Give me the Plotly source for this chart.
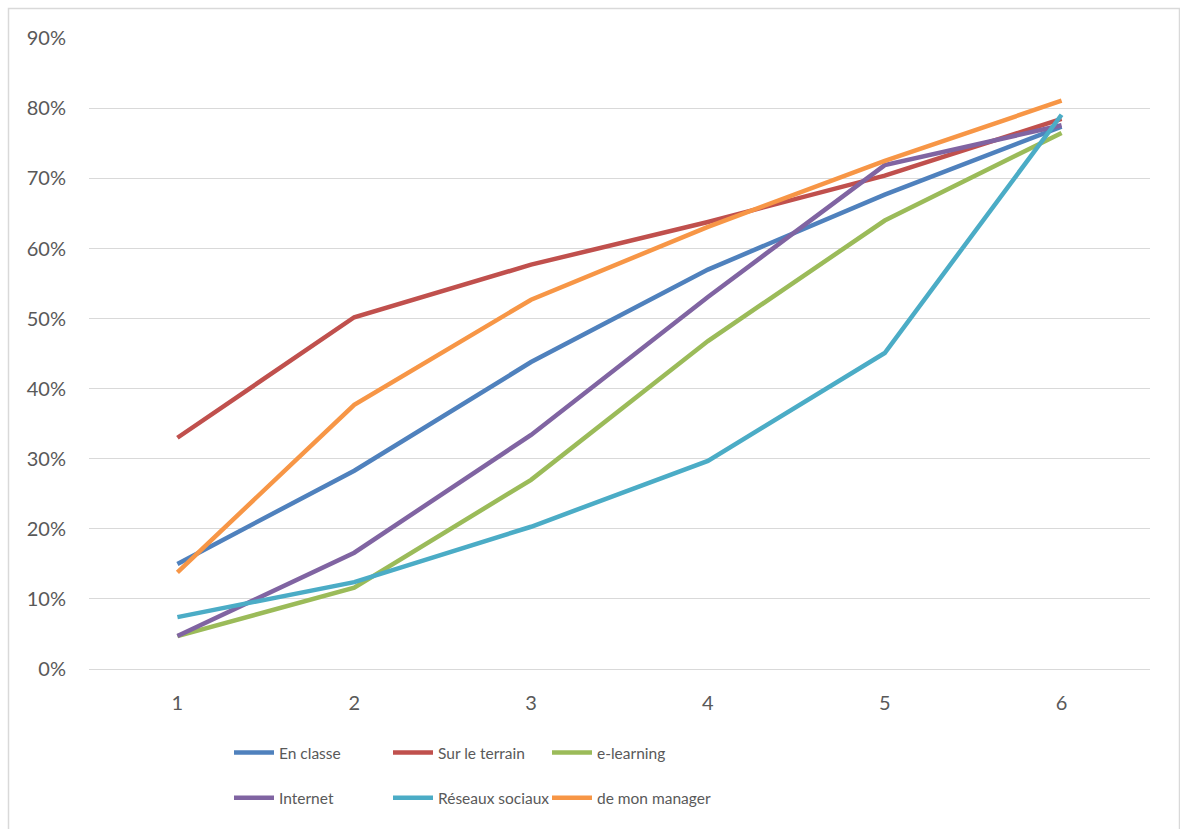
import plotly.graph_objects as go

# Categories on the horizontal axis
categories = [1, 2, 3, 4, 5, 6]

# Share of respondents per learning channel (fractions)
en_classe = [0.150, 0.283, 0.438, 0.570, 0.677, 0.774]
sur_le_terrain = [0.330, 0.502, 0.577, 0.638, 0.704, 0.785]
e_learning = [0.047, 0.116, 0.270, 0.468, 0.640, 0.765]
internet = [0.047, 0.166, 0.334, 0.531, 0.719, 0.776]
reseaux_sociaux = [0.074, 0.124, 0.203, 0.297, 0.451, 0.791]
de_mon_manager = [0.138, 0.377, 0.527, 0.631, 0.725, 0.811]

y_ticks = [0, 0.1, 0.2, 0.3, 0.4, 0.5, 0.6, 0.7, 0.8, 0.9]
y_tick_labels = ["0%", "10%", "20%", "30%", "40%", "50%", "60%", "70%", "80%", "90%"]

# (name, values, colour, legend column)
series = [
    ("En classe", en_classe, "#4f81bd", "legend"),
    ("Sur le terrain", sur_le_terrain, "#c0504d", "legend2"),
    ("e-learning", e_learning, "#9bbb59", "legend3"),
    ("Internet", internet, "#8064a2", "legend"),
    ("Réseaux sociaux", reseaux_sociaux, "#4bacc6", "legend2"),
    ("de mon manager", de_mon_manager, "#f79646", "legend3"),
]

FONT = "Lato"
TXT = "#595959"
GRID = "#d9d9d9"

fig = go.Figure()
for name, vals, color, leg in series:
    fig.add_trace(go.Scatter(
        x=categories, y=vals, name=name, mode="lines",
        line=dict(color=color, width=4.5),
        legend=leg, legendgroup=name,
    ))

W, H = 1180, 829
L, R, T, B = 89, 30, 38, 160
plot_w = W - L - R
plot_h = H - T - B


def px_x(px):
    return (px - L) / plot_w


def px_y(py):
    return (H - B - py) / plot_h


legend_common = dict(
    orientation="v",
    xanchor="left",
    yanchor="middle",
    y=px_y(775.5),
    itemwidth=40,
    traceorder="grouped",
    tracegroupgap=22,
    font=dict(family=FONT, size=15.5, color=TXT),
    bgcolor="rgba(0,0,0,0)",
)

fig.update_layout(
    width=W,
    height=H,
    margin=dict(l=L, r=R, t=T, b=B),
    paper_bgcolor="white",
    plot_bgcolor="white",
    font=dict(family=FONT, size=16, color=TXT),
    legend=dict(x=px_x(229), **legend_common),
    legend2=dict(x=px_x(388), **legend_common),
    legend3=dict(x=px_x(547), **legend_common),
    xaxis=dict(
        range=[0.5, 6.5],
        tickvals=categories,
        ticktext=[str(c) for c in categories],
        showgrid=False,
        zeroline=False,
        showline=True,
        linecolor=GRID,
        linewidth=1,
        ticks="",
        ticklabelstandoff=16,
        tickfont=dict(family=FONT, size=20, color=TXT),
    ),
    yaxis=dict(
        range=[0, 0.9005],
        tickvals=y_ticks,
        ticktext=y_tick_labels,
        showgrid=True,
        gridcolor=GRID,
        gridwidth=1,
        zeroline=False,
        showline=False,
        ticks="",
        ticklabelstandoff=22,
        tickfont=dict(family=FONT, size=20, color=TXT),
    ),
    shapes=[
        dict(
            type="rect", xref="paper", yref="paper",
            x0=px_x(8.5), x1=px_x(1179.5),
            y0=px_y(840), y1=px_y(8.5),
            line=dict(color=GRID, width=1.5),
            fillcolor="rgba(0,0,0,0)",
            layer="below",
        )
    ],
)

fig.write_html("out.html")
